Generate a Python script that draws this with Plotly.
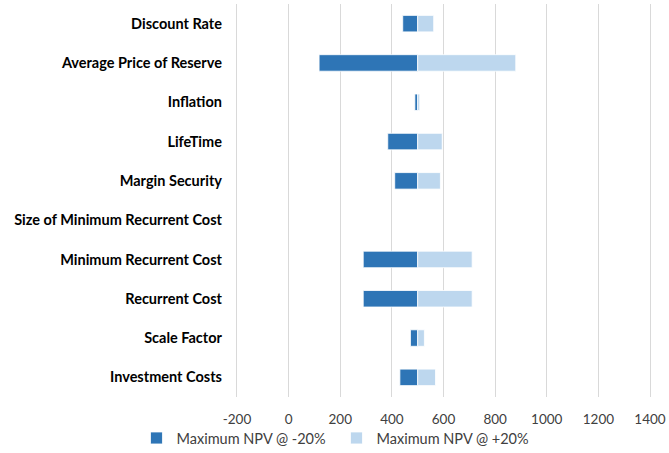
import plotly.graph_objects as go

categories = ["Discount Rate", "Average Price of Reserve", "Inflation", "LifeTime",
              "Margin Security", "Size of Minimum Recurrent Cost", "Minimum Recurrent Cost",
              "Recurrent Cost", "Scale Factor", "Investment Costs"]
base_npv = 500
npv_minus20 = [442, 118, 489, 384, 411, 500, 289, 289, 472, 431]
npv_plus20 = [562, 880, 508, 595, 588, 500, 711, 711, 526, 569]
series_names = ["Maximum NPV @ -20%", "Maximum NPV @ +20%"]
x_ticks = [-200, 0, 200, 400, 600, 800, 1000, 1200, 1400]

FONT = "Lato, Carlito, Calibri, sans-serif"

fig = go.Figure()
fig.add_trace(go.Bar(
    y=categories, x=[v - base_npv for v in npv_minus20], base=base_npv,
    orientation="h", name=series_names[0], width=0.42,
    marker=dict(color="#2E75B6", line=dict(color="white", width=0.8)),
))
fig.add_trace(go.Bar(
    y=categories, x=[v - base_npv for v in npv_plus20], base=base_npv,
    orientation="h", name=series_names[1], width=0.42,
    marker=dict(color="#BDD7EE", line=dict(color="white", width=0.8)),
))

fig.update_layout(
    template="none",
    width=669, height=453,
    margin=dict(l=237, r=19, t=4, b=56, pad=0),
    barmode="overlay",
    plot_bgcolor="white", paper_bgcolor="white",
    font=dict(family=FONT, size=13, color="#404040"),
    xaxis=dict(range=[-200, 1400], tickvals=x_ticks, ticktext=[str(t) for t in x_ticks],
               showgrid=True, automargin=False, ticks="",
               gridcolor="#d9d9d9", gridwidth=1.3, zeroline=False, showline=False,
               ticklabelstandoff=12, tickfont=dict(size=13.5, color="#404040")),
    yaxis=dict(categoryorder="array", categoryarray=categories, autorange="reversed",
               showgrid=False, zeroline=False, automargin=False, ticks="",
               showline=True, mirror=True, linecolor="#d9d9d9", linewidth=1.3,
               ticklabelstandoff=11,
               tickfont=dict(family=FONT, size=14.5, color="#000000", weight="bold")),
    legend=dict(orientation="h", xref="container", yref="container",
                x=0.204, y=0.033, xanchor="left", yanchor="middle",
                bgcolor="rgba(0,0,0,0)",
                font=dict(size=14.5, color="#404040"), traceorder="normal",
                entrywidthmode="pixels", entrywidth=155),
    bargap=0.58,
)

fig.write_html("out.html", config={"displayModeBar": False},
               post_script="document.body.style.margin='0';")
